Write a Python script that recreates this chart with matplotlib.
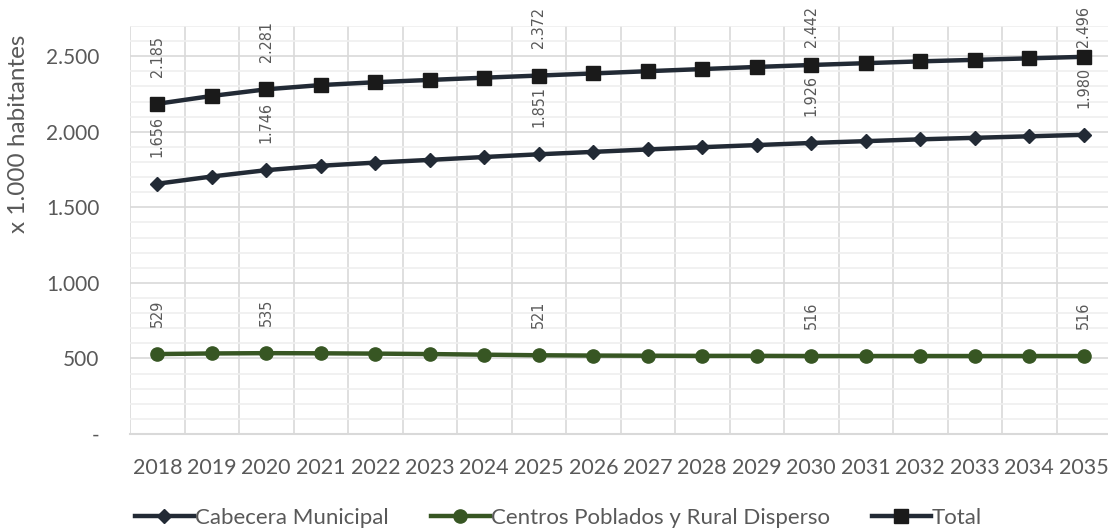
import matplotlib
matplotlib.use("Agg")
import matplotlib.pyplot as plt
from matplotlib import font_manager as fm
from matplotlib.ticker import MultipleLocator, FuncFormatter

# data
years = [str(y) for y in range(2018, 2036)]
cabecera = [1656, 1704, 1746, 1775, 1796, 1814, 1833, 1851, 1867,
            1883, 1898, 1912, 1926, 1938, 1950, 1960, 1970, 1980]
centros = [529, 533, 535, 534, 532, 529, 525, 521, 519,
           518, 517, 517, 516, 516, 516, 516, 516, 516]
total = [2185, 2237, 2281, 2309, 2328, 2343, 2358, 2372, 2386,
         2401, 2415, 2429, 2442, 2454, 2466, 2476, 2486, 2496]
labelled = [0, 2, 7, 12, 17]

series_names = ["Cabecera Municipal", "Centros Poblados y Rural Disperso", "Total"]

grey = "#595959"
plt.rcParams["font.family"] = ["Lato", "DejaVu Sans"]

# the data labels use a narrow face; take a condensed font if one is installed
label_font = fm.FontProperties(family=["Lato", "DejaVu Sans"])
for f in fm.fontManager.ttflist:
    narrowish = (f.stretch in ("condensed", "semi-condensed", "extra-condensed")
                 or "Narrow" in f.name or "Condensed" in f.name)
    if narrowish and f.style == "normal" and f.weight in (400, "normal", "regular"):
        label_font = fm.FontProperties(fname=f.fname)
        break

fig = plt.figure(figsize=(11.08, 5.31), dpi=100)
ax = fig.add_axes([130 / 1108, 97 / 531, 981 / 1108, 408 / 531])

# size the label font so "2.185" is about 41 px long
probe = fig.text(0, 0, "2.185", fontproperties=label_font, fontsize=12)
fig.canvas.draw()
w = probe.get_window_extent().width
probe.remove()
label_size = min(16, 12 * 41 / w)

x = list(range(len(years)))
ax.plot(x, cabecera, color="#222a35", lw=3.2, marker="D", ms=7,
        label=series_names[0], zorder=3)
ax.plot(x, centros, color="#375623", lw=3.2, marker="o", ms=9.5,
        label=series_names[1], zorder=3)
ax.plot(x, total, color="#222a35", lw=3.2, marker="s", ms=10,
        mfc="#1a1a1a", mec="#1a1a1a", label=series_names[2], zorder=3)

labels = []
for vals in (cabecera, centros, total):
    for i in labelled:
        txt = "{:,}".format(vals[i]).replace(",", ".")
        a = ax.annotate(txt, (i, vals[i]), xytext=(0, 19.5), textcoords="offset points",
                        rotation=90, ha="center", va="bottom", fontproperties=label_font,
                        fontsize=label_size, color=grey, annotation_clip=False)
        labels.append(a)

ax.set_xlim(-0.5, 17.5)
ax.set_ylim(0, 2700)
ax.yaxis.set_major_locator(MultipleLocator(500))
ax.yaxis.set_minor_locator(MultipleLocator(100))
ax.yaxis.set_major_formatter(FuncFormatter(
    lambda v, p: "-" if v == 0 else "{:,.0f}".format(v).replace(",", ".")))

ax.set_xticks(x)
ax.set_xticklabels(years)
ax.set_xticks([i - 0.5 for i in range(len(years) + 1)], minor=True)

ax.grid(axis="y", which="major", color="#d9d9d9", lw=1.2)
ax.grid(axis="y", which="minor", color="#efefef", lw=1.2)
ax.grid(axis="x", which="minor", color="#d9d9d9", lw=1.2)
ax.set_axisbelow(True)

for s in ("top", "right", "left"):
    ax.spines[s].set_visible(False)
ax.spines["bottom"].set_color("#d9d9d9")
ax.spines["bottom"].set_linewidth(1.5)

ax.tick_params(axis="both", which="both", length=0, colors=grey)
ax.tick_params(axis="x", labelsize=15.5, pad=17)
ax.tick_params(axis="y", labelsize=15, pad=22)
ax.set_ylabel("x 1.000 habitantes", fontsize=17.5, color=grey)
ax.yaxis.set_label_coords(-0.103, 0.735)

leg = fig.legend(loc="center", bbox_to_anchor=(0.504, 13 / 531), ncol=3,
                 frameon=False, fontsize=16, handlelength=2.65,
                 handletextpad=0.05, columnspacing=1.9)
for t in leg.get_texts():
    t.set_color(grey)

# like the spreadsheet, pull labels down when they would leave the picture
fig.canvas.draw()
top_px = fig.bbox.height - 6
for a in labels:
    bb = a.get_window_extent()
    if bb.y1 > top_px:
        dx, dy = a.xyann
        a.xyann = (dx, dy - (bb.y1 - top_px) * 72 / fig.dpi)

fig.savefig("out.png", dpi=100)
